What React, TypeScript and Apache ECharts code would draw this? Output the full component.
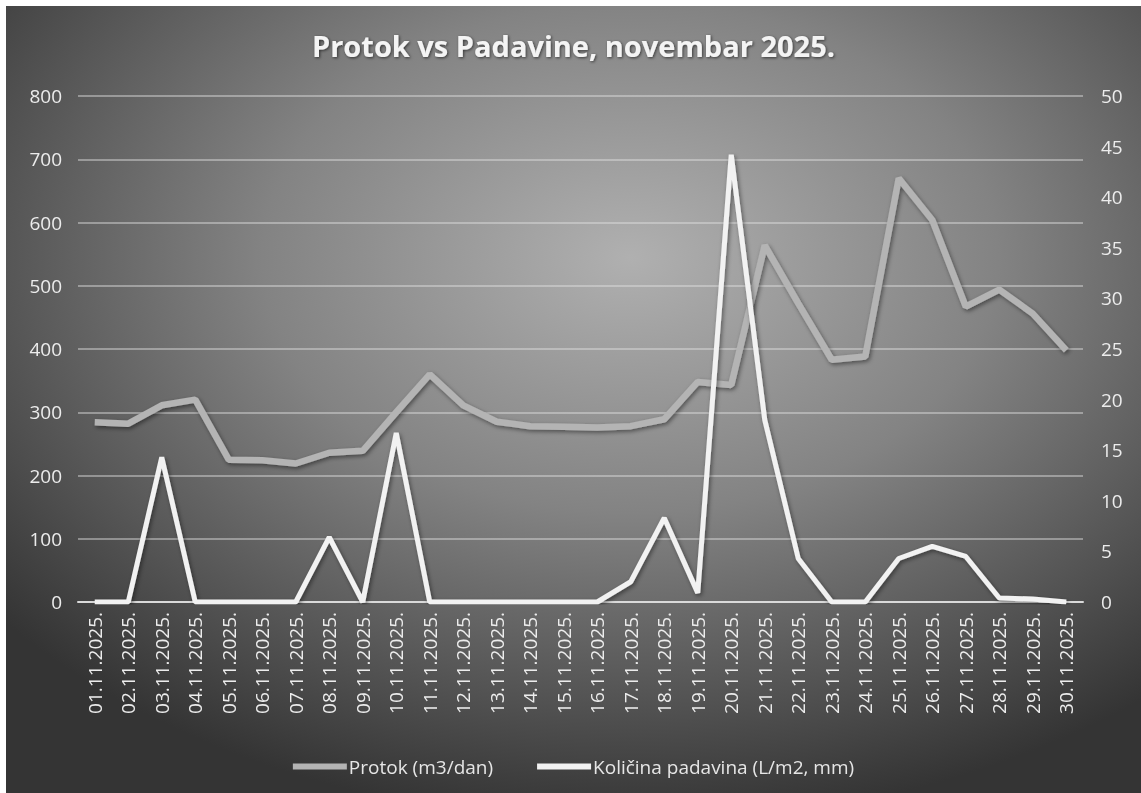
import React, { useEffect, useRef } from "react";
import * as echarts from "echarts";

const days: string[] = [
  "01.11.2025.", "02.11.2025.", "03.11.2025.", "04.11.2025.", "05.11.2025.",
  "06.11.2025.", "07.11.2025.", "08.11.2025.", "09.11.2025.", "10.11.2025.",
  "11.11.2025.", "12.11.2025.", "13.11.2025.", "14.11.2025.", "15.11.2025.",
  "16.11.2025.", "17.11.2025.", "18.11.2025.", "19.11.2025.", "20.11.2025.",
  "21.11.2025.", "22.11.2025.", "23.11.2025.", "24.11.2025.", "25.11.2025.",
  "26.11.2025.", "27.11.2025.", "28.11.2025.", "29.11.2025.", "30.11.2025.",
];

const protok: number[] = [
  284, 282, 311, 320, 225, 224, 219, 236, 239, 300,
  360, 311, 285, 278, 277, 276, 278, 289, 348, 343,
  564, 472, 383, 388, 670, 604, 467, 494, 456, 398,
];

const padavine: number[] = [
  0, 0, 14.3, 0, 0, 0, 0, 6.4, 0, 16.7,
  0, 0, 0, 0, 0, 0, 2.0, 8.3, 0.9, 44.2,
  18.0, 4.3, 0, 0, 4.3, 5.5, 4.5, 0.4, 0.3, 0,
];

const seriesNames: string[] = ["Protok (m3/dan)", "Količina padavina (L/m2, mm)"];
const titleText = "Protok vs Padavine, novembar 2025.";

const FONT = "'Open Sans', 'Noto Sans', sans-serif";

export default function App() {
  const ref = useRef<HTMLDivElement>(null);

  useEffect(() => {
    if (!ref.current) return;
    const chart = echarts.init(ref.current, undefined, { renderer: "svg" });
    chart.setOption({
      animation: false,
      backgroundColor: {
        type: "radial",
        x: 0.55,
        y: 0.32,
        r: 0.72,
        colorStops: [
          { offset: 0, color: "#b0b0b0" },
          { offset: 0.45, color: "#838383" },
          { offset: 1, color: "#343434" },
        ],
      },
      textStyle: { fontFamily: FONT },
      title: {
        text: titleText,
        left: "center",
        top: 20,
        textStyle: {
          color: "#f4f4f4",
          fontSize: 29,
          fontWeight: "bold",
          fontFamily: FONT,
          textShadowColor: "rgba(0,0,0,0.6)",
          textShadowBlur: 3,
          textShadowOffsetX: 1,
          textShadowOffsetY: 1,
        },
      },
      legend: {
        bottom: 12,
        left: "center",
        itemWidth: 54,
        itemHeight: 6,
        itemGap: 44,
        icon: "rect",
        textStyle: { color: "#e6e6e6", fontSize: 19, fontFamily: FONT, padding: [0, 0, 0, -3] },
        data: seriesNames,
      },
      grid: { left: 72, right: 58, top: 90, height: 506 },
      xAxis: {
        type: "category",
        data: days,
        boundaryGap: true,
        axisLine: { lineStyle: { color: "#dadada", width: 2 } },
        axisTick: { show: false },
        axisLabel: {
          rotate: 90,
          interval: 0,
          color: "#ececec",
          fontSize: 19,
          margin: 10,
          fontFamily: FONT,
        },
      },
      yAxis: [
        {
          type: "value",
          min: 0,
          max: 800,
          interval: 100,
          axisLine: { show: false },
          axisTick: { show: false },
          axisLabel: { color: "#ececec", fontSize: 19, margin: 16, fontFamily: FONT },
          splitLine: { lineStyle: { color: "rgba(225,225,225,0.6)", width: 1.5 } },
        },
        {
          type: "value",
          min: 0,
          max: 50,
          interval: 5,
          position: "right",
          axisLine: { show: false },
          axisTick: { show: false },
          axisLabel: { color: "#ececec", fontSize: 19, margin: 18, fontFamily: FONT },
          splitLine: { show: false },
        },
      ],
      series: [
        {
          name: seriesNames[0],
          type: "line",
          data: protok,
          yAxisIndex: 0,
          symbol: "none",
          itemStyle: { color: "#b4b4b4" },
          lineStyle: {
            color: "#b4b4b4",
            width: 6.5,
            shadowColor: "rgba(0,0,0,0.45)",
            shadowBlur: 4,
            shadowOffsetX: 1.5,
            shadowOffsetY: 2,
          },
        },
        {
          name: seriesNames[1],
          type: "line",
          data: padavine,
          yAxisIndex: 1,
          symbol: "none",
          itemStyle: { color: "#f2f2f2" },
          lineStyle: {
            color: "#f2f2f2",
            width: 5,
            shadowColor: "rgba(0,0,0,0.45)",
            shadowBlur: 4,
            shadowOffsetX: 1.5,
            shadowOffsetY: 2,
          },
        },
      ],
    });
    return () => chart.dispose();
  }, []);

  return (
    <div
      ref={ref}
      style={{ position: "fixed", left: 6, top: 6, width: 1135, height: 787 }}
    />
  );
}
